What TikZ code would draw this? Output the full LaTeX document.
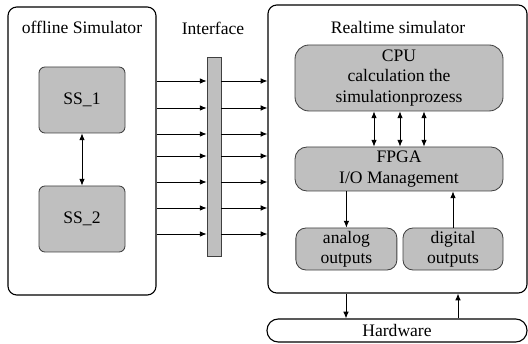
\documentclass[tikz,border=0pt]{standalone}
\usepackage{fontspec}
\setmainfont{Liberation Serif}
\usepackage{tikz}
\usetikzlibrary{shapes, positioning, arrows.meta}

\tikzset{
  outerbox/.style={draw=black, line width=0.8pt, rounded corners=0.22cm},
  graybox/.style={draw=black!75, fill=black!25, line width=0.6pt, align=center, inner sep=0pt},
  flow/.style={-{Latex[length=1.7mm,width=1.4mm]}, line width=0.6pt},
  dflow/.style={{Latex[length=1.7mm,width=1.4mm]}-{Latex[length=1.7mm,width=1.4mm]}, line width=0.6pt}
}

\begin{document}
\begin{tikzpicture}[font=\fontsize{12.5}{14.5}\selectfont]

\useasboundingbox (0,0) rectangle (13.2,8.575);

% Offline simulator
\node[outerbox, minimum width=3.7cm, minimum height=7.2cm] (offline) at (2.05,4.8) {};
\node at (2.05,7.9) (offtitle) {offline Simulator};
\node[graybox, rounded corners=0.15cm, minimum width=2.15cm, minimum height=1.65cm] (ss1) at (2.05,6.075) {SS\_1};
\node[graybox, rounded corners=0.15cm, minimum width=2.15cm, minimum height=1.65cm] (ss2) at (2.05,3.1) {SS\_2};
\draw[dflow] (ss1) -- (ss2);

% Interface
\node at (5.325,7.875) (iftitle) {Interface};
\node[graybox, minimum width=0.35cm, minimum height=4.975cm] (bar) at (5.35,4.6625) {};

% Realtime simulator
\node[outerbox, minimum width=6.475cm, minimum height=7.2cm] (realtime) at (9.9375,4.85) {};
\node at (9.95,7.9) (rttitle) {Realtime simulator};
\node[graybox, rounded corners=0.35cm, minimum width=5.2cm, minimum height=1.65cm] (cpu) at (9.975,6.625) {CPU\\calculation the\\simulationprozess};
\node[graybox, rounded corners=0.3cm, minimum width=5.2cm, minimum height=1.1cm] (fpga) at (9.975,4.35) {FPGA\\I/O Management};
\node[graybox, rounded corners=0.25cm, minimum width=2.525cm, minimum height=1.05cm] (analog) at (8.66,2.35) {analog\\outputs};
\node[graybox, rounded corners=0.25cm, minimum width=2.5cm, minimum height=1.05cm] (digital) at (11.325,2.35) {digital\\outputs};

% Hardware
\node[outerbox, rounded corners=0.28cm, minimum width=6.5cm, minimum height=0.575cm] (hw) at (9.925,0.3125) {Hardware};

% arrows through the interface
\foreach \y in {6.55, 5.875, 5.225, 4.675, 4.025, 3.375, 2.725} {
  \draw[flow] (offline.east |- 0,\y) -- (bar.west |- 0,\y);
  \draw[flow] (bar.east |- 0,\y) -- (realtime.west |- 0,\y);
}

% CPU <-> FPGA
\foreach \x in {9.35, 10.0, 10.6}
  \draw[dflow] (cpu.south -| \x,0) -- (fpga.north -| \x,0);

\draw[flow] (fpga.south -| analog) -- (analog.north);
\draw[flow] (digital.north) -- (fpga.south -| digital);

% realtime <-> hardware
\draw[flow] (realtime.south -| 8.65,0) -- (hw.north -| 8.65,0);
\draw[flow] (hw.north -| 11.45,0) -- (realtime.south -| 11.45,0);

\end{tikzpicture}
\end{document}
